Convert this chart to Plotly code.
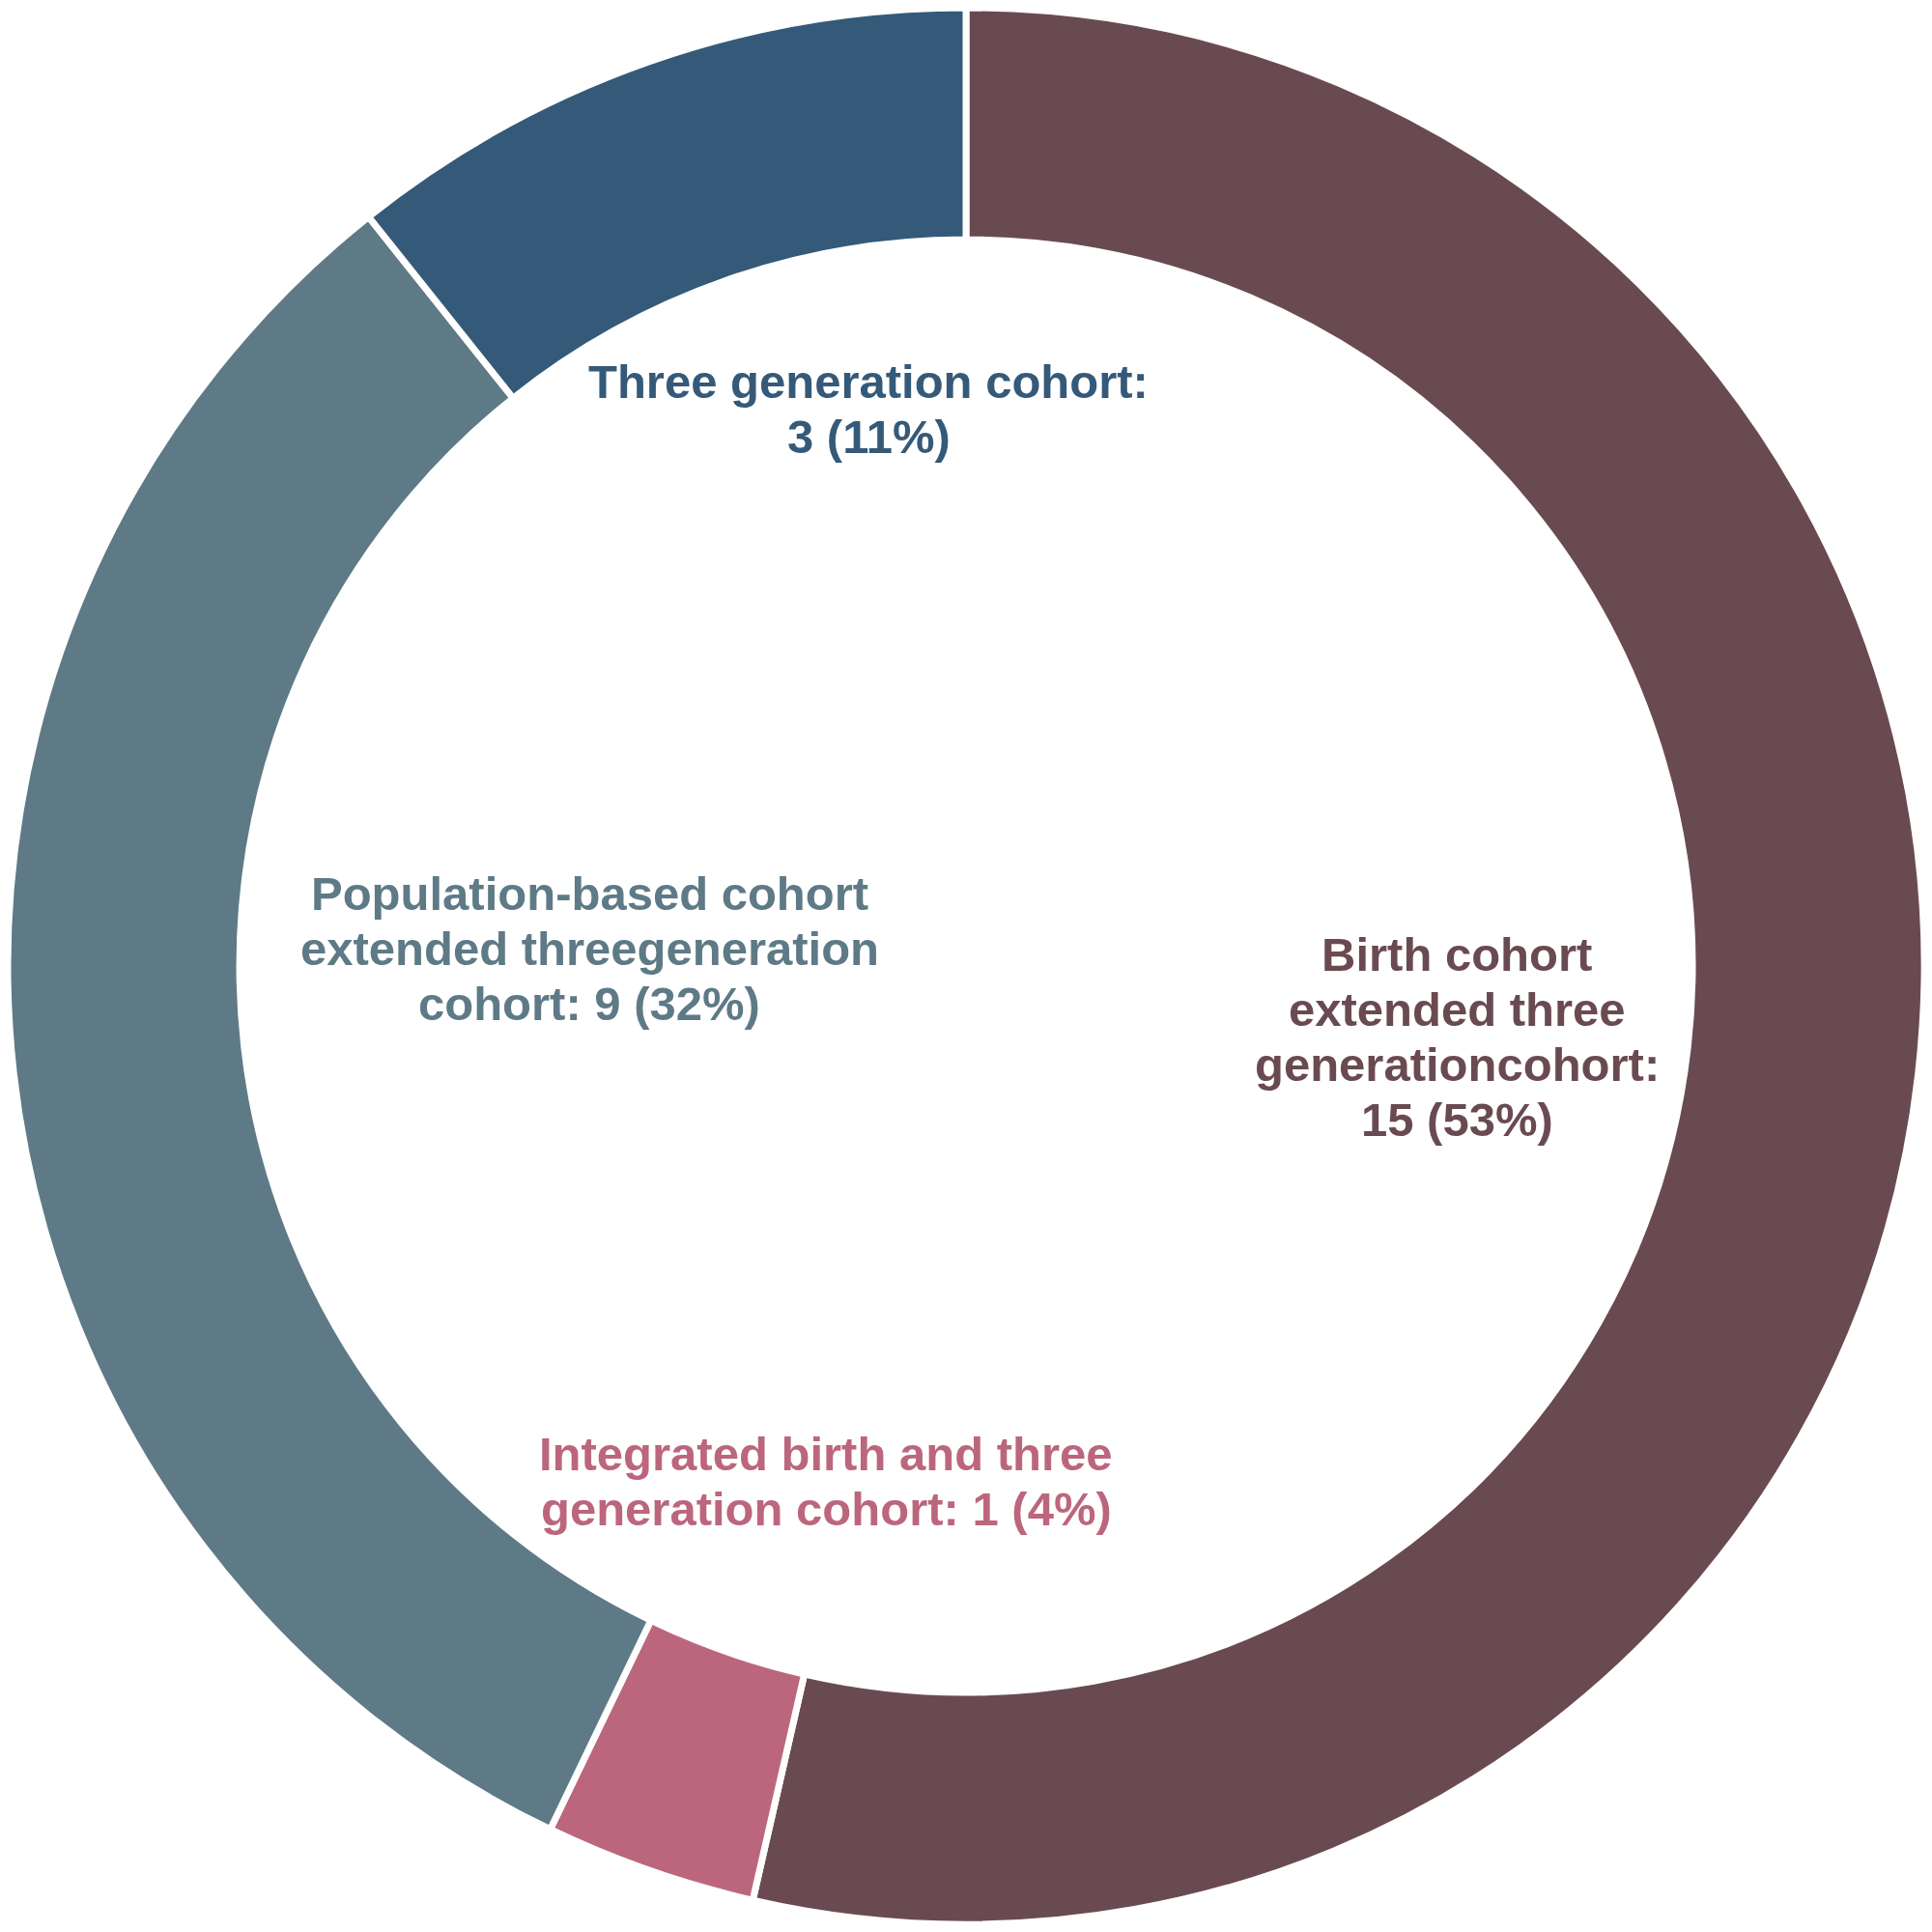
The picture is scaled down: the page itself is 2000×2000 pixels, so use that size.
import plotly.graph_objects as go

# cohort types, clockwise from 12 o'clock
categories = [
    "Birth cohort extended three generationcohort",
    "Integrated birth and three generation cohort",
    "Population-based cohort extended threegeneration cohort",
    "Three generation cohort",
]
counts = [15, 1, 9, 3]
label_lines = [
    ["Birth cohort", "extended three", "generationcohort:", "15 (53%)"],
    ["Integrated birth and three", "generation cohort: 1 (4%)"],
    ["Population-based cohort", "extended threegeneration", "cohort: 9 (32%)"],
    ["Three generation cohort:", "3 (11%)"],
]

colors = ["#6A4A51", "#BC667D", "#5E7A86", "#355A79"]
# label centre x and first-line y, in page pixels
label_pos = [(1508, 988), (855, 1505), (610, 925), (899, 395)]
line_step = 57

W = H = 2000
OFF = 8          # page body margin
PLOT = W - 2 * OFF


def to_paper(px_, py_):
    return (px_ - OFF) / PLOT, 1 - (py_ - OFF) / PLOT


fig = go.Figure(go.Pie(
    labels=categories,
    values=counts,
    hole=0.758,
    sort=False,
    direction="clockwise",
    rotation=0,
    marker=dict(colors=colors, line=dict(color="white", width=7)),
    textinfo="none",
    hoverinfo="label+value+percent",
    showlegend=False,
))

for lines, col, (cx, cy) in zip(label_lines, colors, label_pos):
    for i, line in enumerate(lines):
        x, y = to_paper(cx, cy + i * line_step)
        fig.add_annotation(
            x=x, y=y, xref="paper", yref="paper",
            text="<b>" + line + "</b>", showarrow=False,
            font=dict(family="Liberation Sans, Arial", size=49, color=col),
            xanchor="center", yanchor="middle",
        )

fig.update_layout(
    width=W, height=H,
    margin=dict(l=0, r=2 * OFF, t=0, b=2 * OFF),
    paper_bgcolor="white",
    plot_bgcolor="white",
)

fig.write_html("out.html")
